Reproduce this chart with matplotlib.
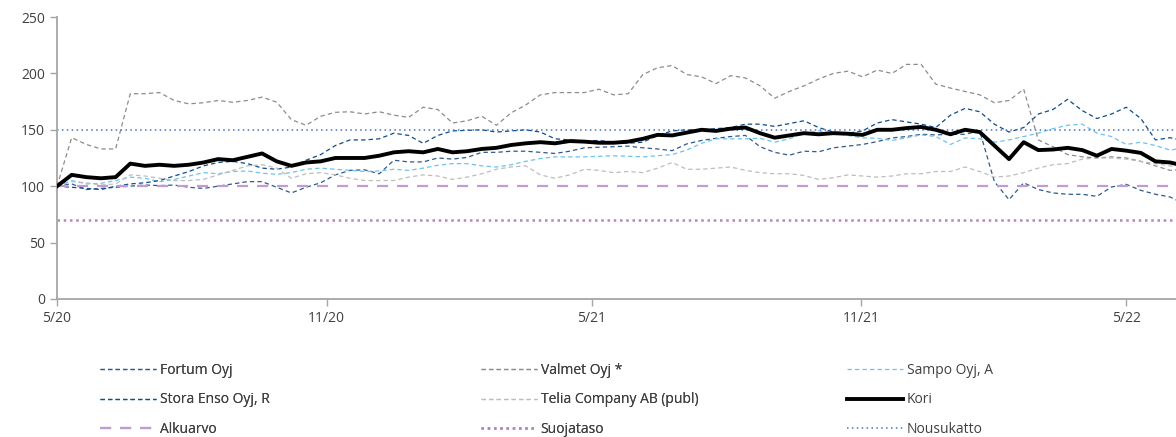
import matplotlib.pyplot as plt
import matplotlib.dates as mdates
import pandas as pd

plt.rcParams['font.family'] = ['Open Sans', 'DejaVu Sans']

# index values, every 10 days from 1.5.2020
dates = pd.date_range('2020-05-01', periods=78, freq='10D')

fortum = [100, 102, 97, 98, 99, 100, 101, 100.5, 101, 99,
          98, 100, 102, 104, 104, 99, 94, 99, 103, 110,
          114, 114.5, 111, 123, 121.5, 121.5, 125, 124, 125.5, 130,
          130, 131, 131, 130, 129, 131, 134, 134.5, 135, 135.5,
          134, 133, 131.5, 137.5, 140.5, 142.5, 144, 145, 135, 130,
          127.5, 131, 130.5, 134, 135.5, 137, 139.5, 142.8, 144, 146,
          145.5, 146, 146, 149, 104, 88, 103, 97, 94, 92.8,
          92.8, 91, 99.3, 101.6, 96.3, 92.8, 90.4, 84]

valmet = [100, 143, 137, 133, 133, 182, 182, 183, 176, 173,
          174, 176, 174.4, 176, 179, 174.5, 159, 154, 162, 165.5,
          166, 164, 166, 163, 161, 170, 168, 156, 158, 162,
          154, 165, 172, 181, 183, 183, 183, 186, 181, 182,
          199, 205, 207, 199, 197, 191, 198, 196, 189, 178,
          184, 189, 195, 200, 202, 197, 203, 200, 208, 208,
          190.5, 187, 184, 181, 174, 176, 186, 141, 135, 128,
          126, 125, 126, 125, 122, 118, 114, 115]

sampo = [100, 105, 102, 102.5, 105, 108, 107, 104, 106, 109,
         112, 111, 113, 113.5, 111.5, 110.5, 112, 115, 116, 115,
         114, 113, 113.5, 115, 114, 116, 118.5, 120, 120, 118,
         117, 119, 122, 124.5, 126, 126, 126, 126.5, 127, 126.5,
         126, 127, 128, 132, 138, 142, 142, 142, 142.5, 139,
         142, 147, 149, 147, 145, 142.8, 142.5, 140.5, 143, 145.5,
         144, 137, 142.8, 142, 139, 141, 144, 147, 151, 154,
         155, 147, 144, 137, 139, 136, 132, 134]

stora = [100, 99, 98, 97, 100, 102, 103, 105, 109, 113,
         118, 121, 122, 120, 116, 115, 117, 123, 128, 136,
         141, 141, 142, 147, 145, 138, 145, 149, 149.5, 150,
         148, 149, 150, 148, 142, 141, 140, 140.5, 139, 138,
         139, 145, 149, 150, 150, 151, 152, 155, 155, 153,
         155.5, 158, 152, 148, 147, 149, 156, 159, 157, 155,
         152, 163, 169, 166, 155, 148, 152, 164, 168, 177,
         167, 160, 164, 170, 160, 141, 143, 140]

telia = [100, 104, 103, 101, 102, 110, 109, 107, 105, 105,
         106, 110, 114, 118, 119, 116, 107, 111, 112, 110,
         107, 105, 105, 105, 108, 110, 109, 106, 108, 111,
         115, 117, 118, 110, 107, 110, 115, 114, 112, 113,
         112, 116, 121, 115, 115, 116, 117, 114, 112, 111,
         111, 109.5, 106, 107.5, 110, 109, 108, 109, 111, 111,
         113, 113, 117, 113, 108, 109, 112, 116, 119, 120,
         124, 125, 125, 124, 122, 120, 118, 117]

kori = [100, 110, 108, 107, 108, 120, 118, 119, 118, 119,
        121, 124, 123, 126, 129, 122, 118, 121, 122, 125,
        125, 125, 127, 130, 131, 130, 133, 130, 131, 133,
        134, 136.5, 138, 139, 138, 140, 139.5, 138.5, 138.5, 139.5,
        142, 145.5, 145, 147.5, 150, 149, 151, 152, 147, 143,
        145, 147, 146, 147, 146.5, 145.5, 150, 150, 151.5, 152.5,
        150, 146, 150, 148, 136, 124, 139, 132, 132.5, 134,
        132, 127, 133, 131.5, 129.5, 122, 121, 118]

alkuarvo = 100
suojataso = 70
nousukatto = 150

series = [
    ('Fortum Oyj', fortum, '#2F5A8C'),
    ('Valmet Oyj *', valmet, '#8C8C8C'),
    ('Sampo Oyj, A', sampo, '#6CC3EE'),
    ('Stora Enso Oyj, R', stora, '#0E4C8A'),
    ('Telia Company AB (publ)', telia, '#BDBDBD'),
]

fig = plt.figure(figsize=(11.76, 4.37), dpi=100)
ax = fig.add_axes([0.0485, 0.316, 0.9515, 0.645])

handles = {}
for name, vals, col in series:
    ln, = ax.plot(dates, vals, color=col, lw=0.9, linestyle=(0, (3.5, 2.5)), label=name)
    handles[name] = ln
ln, = ax.plot(dates, kori, color='black', lw=2.8, label='Kori', zorder=5)
handles['Kori'] = ln

handles['Alkuarvo'] = ax.axhline(alkuarvo, color='#C39BD3', lw=1.6, linestyle=(0, (5, 4)), label='Alkuarvo')
handles['Suojataso'] = ax.axhline(suojataso, color='#B583C2', lw=1.8, linestyle=(0, (1, 1.5)), label='Suojataso')
handles['Nousukatto'] = ax.axhline(nousukatto, color='#4472C4', lw=1.1, linestyle=(0, (1, 2.2)), label='Nousukatto')

ax.set_ylim(0, 250)
ax.set_yticks(range(0, 251, 50))
ax.set_xlim(pd.Timestamp('2020-05-01'), pd.Timestamp('2022-06-04'))
ax.xaxis.set_major_locator(mdates.MonthLocator(bymonth=[5, 11]))
ax.xaxis.set_major_formatter(mdates.DateFormatter('%m/%y'))
ax.set_xticklabels([f'{d.month}/{d.strftime("%y")}' for d in mdates.num2date(ax.get_xticks())])

for s in ['top', 'right']:
    ax.spines[s].set_visible(False)
for s in ['left', 'bottom']:
    ax.spines[s].set_color('#A6A6A6')
    ax.spines[s].set_linewidth(1.3)
ax.tick_params(axis='both', colors='#A6A6A6', labelcolor='#404040', labelsize=10, length=5, width=1)

cols = [['Fortum Oyj', 'Stora Enso Oyj, R', 'Alkuarvo'],
        ['Valmet Oyj *', 'Telia Company AB (publ)', 'Suojataso'],
        ['Sampo Oyj, A', 'Kori', 'Nousukatto']]
xs = [0.085, 0.409, 0.7205]
for i, names in enumerate(cols):
    leg = fig.legend([handles[n] for n in names], names, loc='upper left',
                     bbox_to_anchor=(xs[i], 0.169), frameon=False, fontsize=10,
                     handlelength=4.0, handletextpad=0.3, labelspacing=1.03,
                     borderaxespad=0, borderpad=0)
    for t in leg.get_texts():
        t.set_color('#404040')
    if i < 2:
        fig.add_artist(leg)

fig.savefig('out.png', dpi=100)
